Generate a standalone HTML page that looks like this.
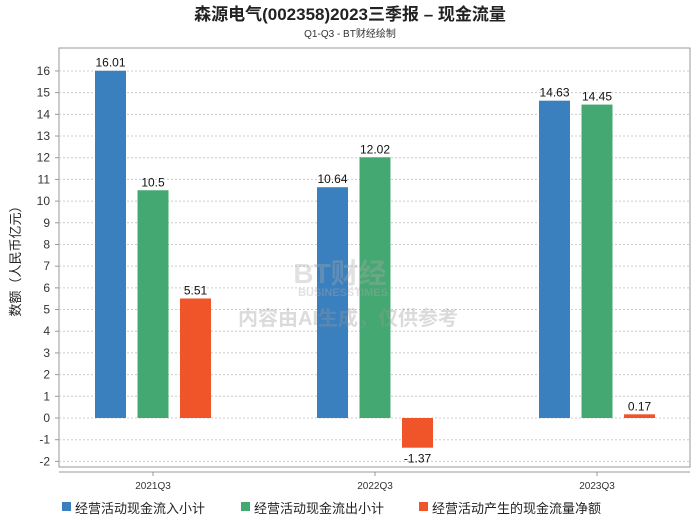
<!DOCTYPE html>
<html><head><meta charset="utf-8"><style>
body{margin:0;background:#fff;font-family:"Liberation Sans","Noto Sans CJK SC",sans-serif;}
svg text{font-family:"Liberation Sans","Noto Sans CJK SC",sans-serif;}
</style></head><body>
<svg id="c" width="700" height="524">
<text x="350" y="20" text-anchor="middle" font-size="17" font-weight="bold" fill="#222">森源电气(002358)2023三季报 – 现金流量</text>
<text x="350" y="37" text-anchor="middle" font-size="10" fill="#333">Q1-Q3 - BT财经绘制</text>
<rect x="59" y="48" width="631" height="419" fill="none" stroke="#999"/>
<text transform="translate(20,258) rotate(-90)" text-anchor="middle" font-size="13" fill="#222">数额（人民币亿元）</text>
<line x1="59" y1="472" x2="690" y2="472" stroke="#999"/>
<g id="grid"></g><g id="bars"></g>
<g opacity="0.35">
<text x="340" y="283" text-anchor="middle" font-size="28" font-weight="bold" fill="#aaa">BT财经</text>
<text x="340" y="283" dy="0" text-anchor="middle" font-size="1" fill="none"> </text>
<text x="343" y="296" text-anchor="middle" font-size="11" font-weight="bold" fill="#aaa">BUSINESSTIMES</text>
<text x="348" y="325" text-anchor="middle" font-size="20" font-weight="bold" fill="#999">内容由AI生成，仅供参考</text>
</g>
<g font-size="13" fill="#222">
<rect x="62" y="502" width="9" height="9" fill="#3a7fbe"/>
<text x="75" y="513">经营活动现金流入小计</text>
<rect x="241" y="502" width="9" height="9" fill="#44a872"/>
<text x="254" y="513">经营活动现金流出小计</text>
<rect x="419" y="502" width="9" height="9" fill="#f0552a"/>
<text x="432" y="513">经营活动产生的现金流量净额</text>
</g>
</svg>
<script>
const categories=["2021Q3","2022Q3","2023Q3"];
const inflow=[16.01,10.64,14.63];
const outflow=[10.5,12.02,14.45];
const netflow=[5.51,-1.37,0.17];
const yTicks=[-2,-1,0,1,2,3,4,5,6,7,8,9,10,11,12,13,14,15,16];
const series=[inflow,outflow,netflow];
const colors=["#3a7fbe","#44a872","#f0552a"];
const names=["inflow","outflow","net"];
const NS="http://www.w3.org/2000/svg";
const y=v=>418-v*21.69;
const x=i=>153+i*222;
function mk(tag,attrs,parent,txt){const e=document.createElementNS(NS,tag);for(const k in attrs)e.setAttribute(k,attrs[k]);if(txt!==undefined)e.textContent=txt;parent.appendChild(e);return e;}
const g=document.getElementById('grid'),b=document.getElementById('bars');
yTicks.forEach(t=>{
 const l=mk('line',{x1:59,x2:690,y1:y(t),y2:y(t),stroke:'#ccc','stroke-dasharray':'2,2'},g);
 
 
 const tk=mk('line',{x1:55,x2:59,y1:y(t),y2:y(t),stroke:'#999'},g);
 
 
 const tx=mk('text',{x:50,y:y(t)+4,'text-anchor':'end','font-size':12,fill:'#333'},g,String(t));
 
 
});
categories.forEach((c,i)=>{
 const tk=mk('line',{x1:x(i),x2:x(i),y1:472,y2:476,stroke:'#999'},g);
 
 
 const tx=mk('text',{x:x(i),y:489,'text-anchor':'middle','font-size':10,fill:'#333'},g,c);
 
 
 series.forEach((s,j)=>{
  const v=s[i];const cx=x(i)+(j-1)*42.5;
  const top=Math.min(y(v),y(0)),h=Math.abs(y(v)-y(0));
  const r=mk('rect',{x:cx-15.5,y:top,width:31,height:h,fill:colors[j]},b);
  
  
  const ly=v>=0?y(v)-4:y(v)+15;
  const t=mk('text',{x:cx,y:ly,'text-anchor':'middle','font-size':12,fill:'#111'},b,String(v));
  
  
 });
});
</script>
</body></html>
